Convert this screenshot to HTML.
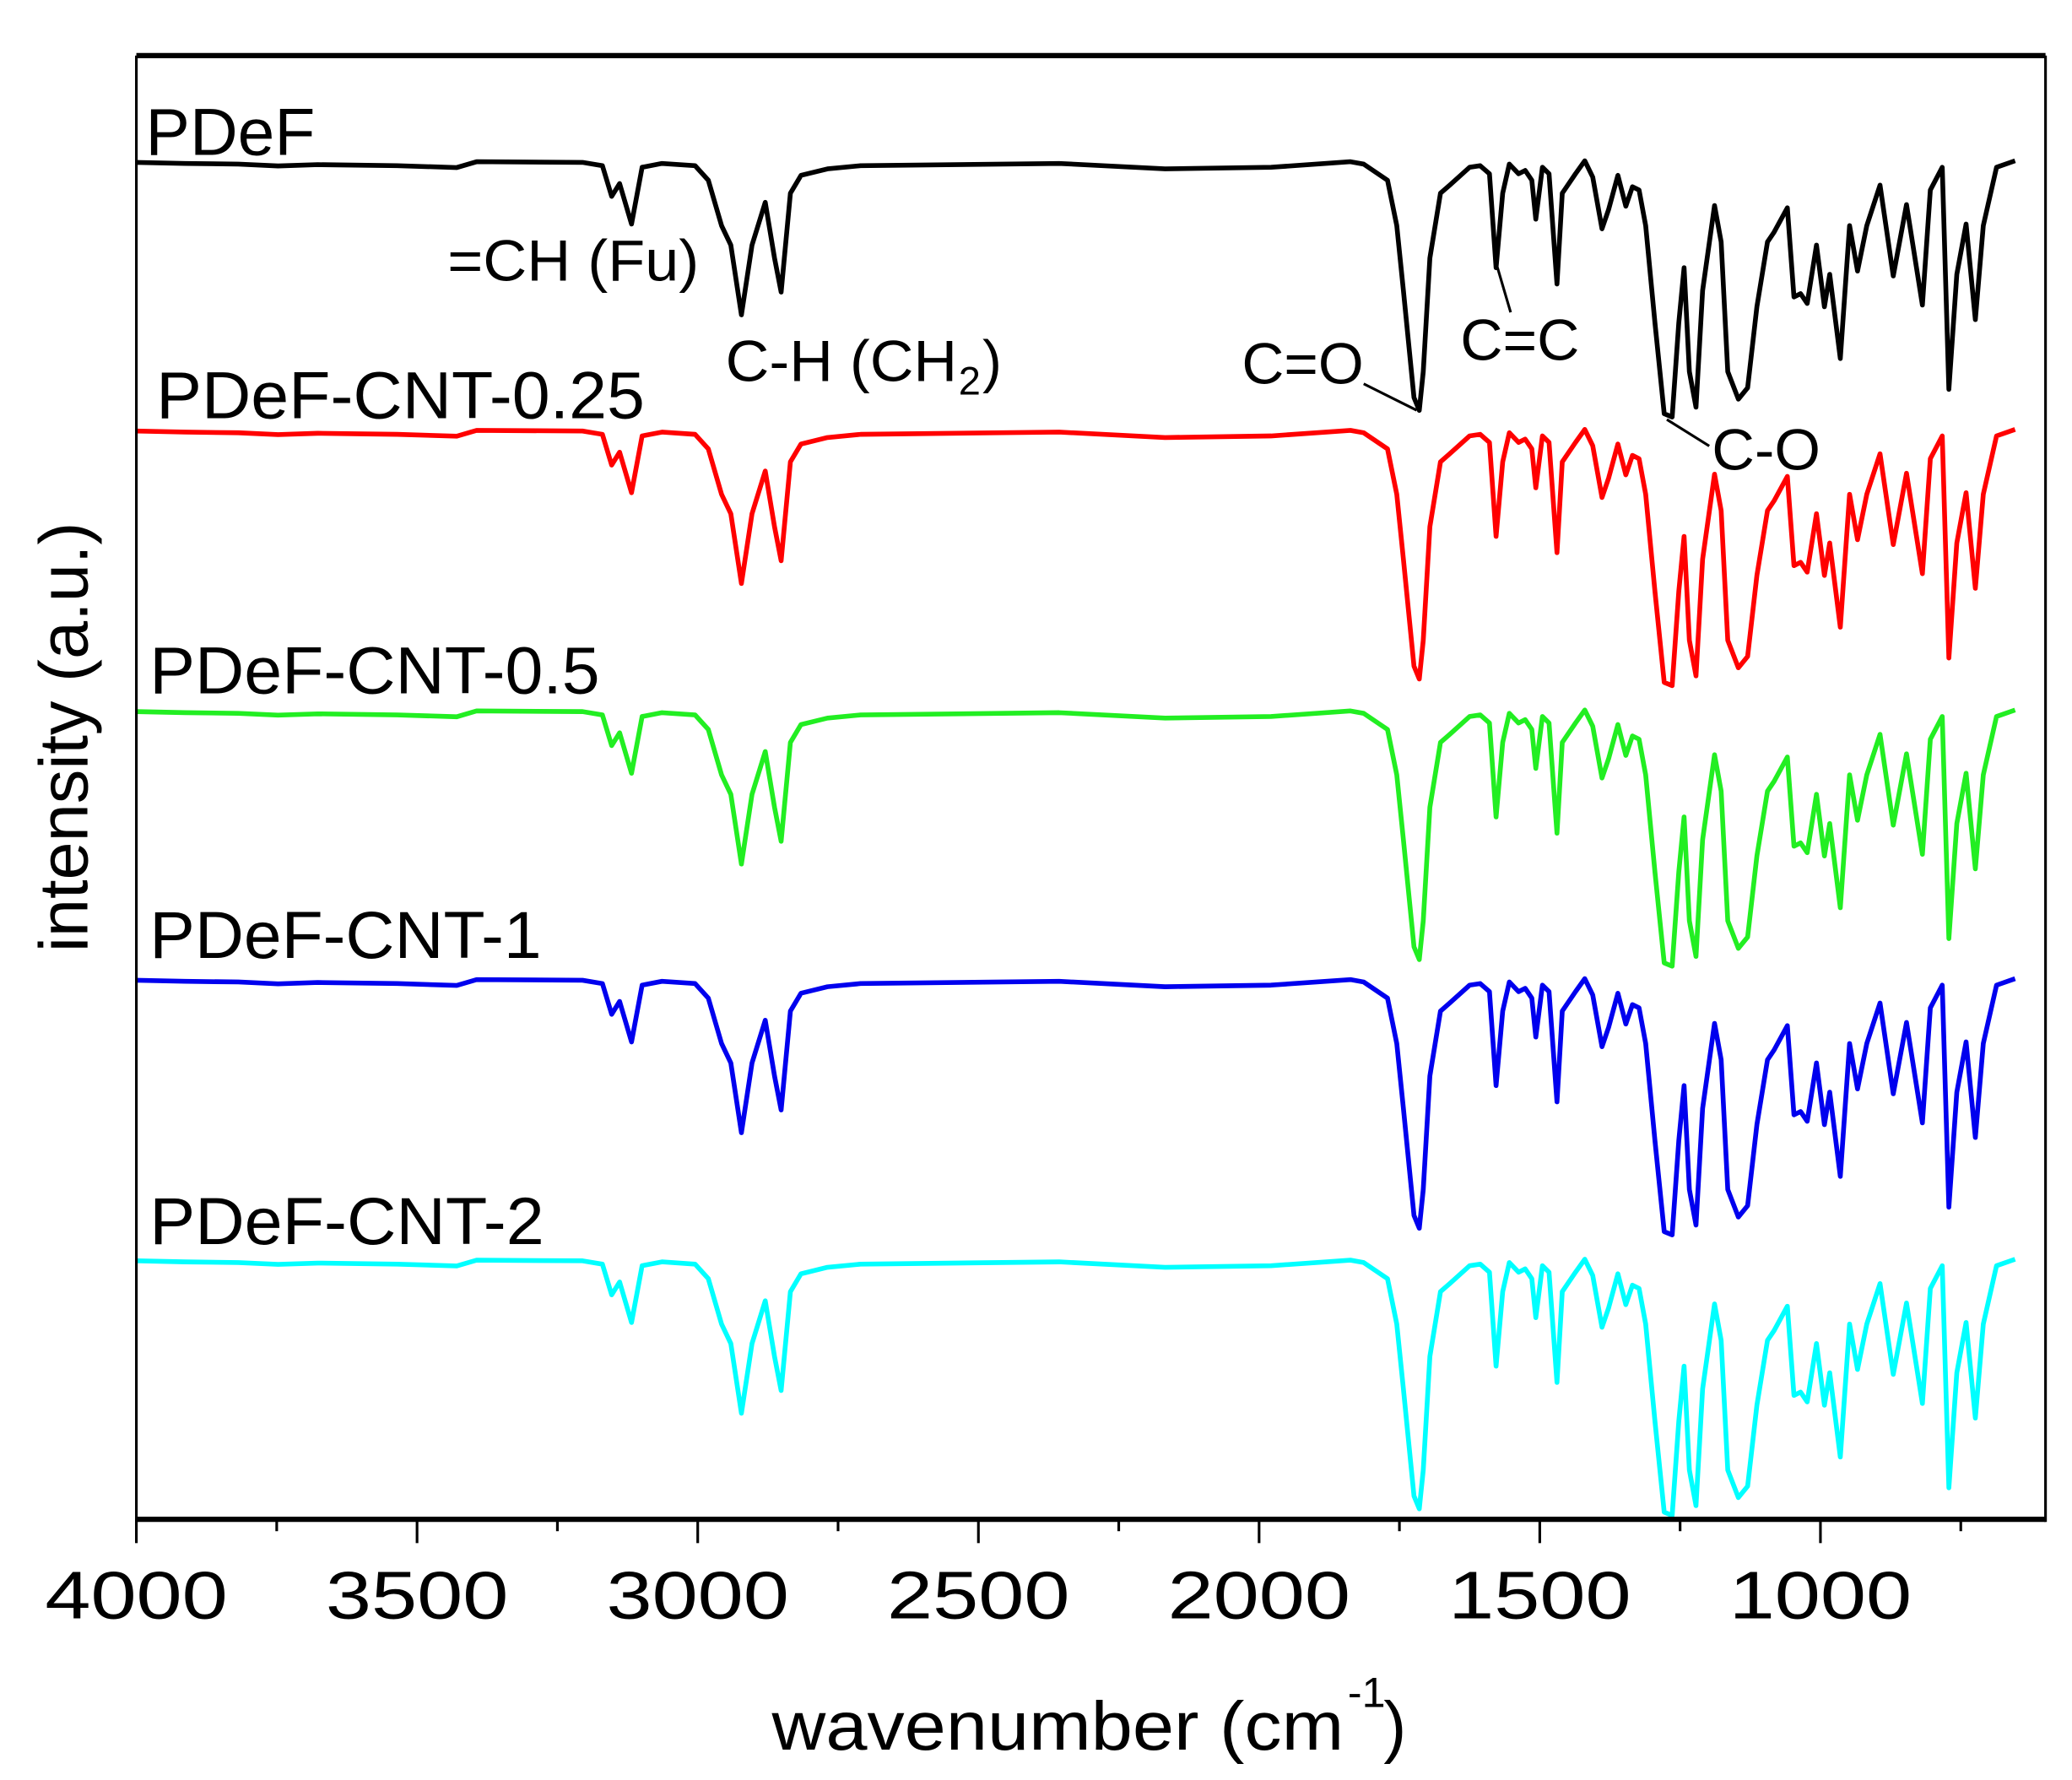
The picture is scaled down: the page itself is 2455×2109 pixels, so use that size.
<!DOCTYPE html>
<html><head><meta charset="utf-8"><style>
html,body{margin:0;padding:0;background:#fff;}
svg{display:block;}
text{font-family:"Liberation Sans",Arial,sans-serif;fill:#000;}
</style></head><body>
<svg id="s" width="2455" height="2109" viewBox="0 0 1565 1345" preserveAspectRatio="none" xmlns="http://www.w3.org/2000/svg">
<rect width="1565" height="1345" fill="#fff"/>
<g id="curves" fill="none" stroke-width="3.6" stroke-linejoin="round"></g>
<line x1="103" y1="42" x2="1545" y2="42" stroke="#000" stroke-width="4"/>
<line x1="103" y1="1148" x2="1545" y2="1148" stroke="#000" stroke-width="4"/>
<line x1="103" y1="42" x2="103" y2="1150" stroke="#000" stroke-width="2"/>
<line x1="1545" y1="42" x2="1545" y2="1150" stroke="#000" stroke-width="2"/>
<g id="ticks" stroke="#000" stroke-width="2"></g>
<g font-size="51" text-anchor="middle">
<text x="103" y="1223" textLength="138" lengthAdjust="spacingAndGlyphs">4000</text>
<text x="315" y="1223" textLength="138" lengthAdjust="spacingAndGlyphs">3500</text>
<text x="527" y="1223" textLength="138" lengthAdjust="spacingAndGlyphs">3000</text>
<text x="739" y="1223" textLength="138" lengthAdjust="spacingAndGlyphs">2500</text>
<text x="951" y="1223" textLength="138" lengthAdjust="spacingAndGlyphs">2000</text>
<text x="1163" y="1223" textLength="138" lengthAdjust="spacingAndGlyphs">1500</text>
<text x="1375" y="1223" textLength="138" lengthAdjust="spacingAndGlyphs">1000</text>
</g>
<text x="583" y="1322" font-size="52" textLength="432" lengthAdjust="spacingAndGlyphs">wavenumber (cm</text>
<text x="1018" y="1290" font-size="32">-1</text>
<text x="1045" y="1322" font-size="52">)</text>
<text transform="translate(66,557) rotate(-90)" font-size="52" text-anchor="middle" textLength="325" lengthAdjust="spacingAndGlyphs">intensity (a.u.)</text>
<g font-size="50">
<text x="110" y="117" textLength="128" lengthAdjust="spacingAndGlyphs">PDeF</text>
<text x="118" y="316" textLength="369" lengthAdjust="spacingAndGlyphs">PDeF-CNT-0.25</text>
<text x="113" y="524" textLength="340" lengthAdjust="spacingAndGlyphs">PDeF-CNT-0.5</text>
<text x="113" y="724" textLength="296" lengthAdjust="spacingAndGlyphs">PDeF-CNT-1</text>
<text x="113" y="940" textLength="298" lengthAdjust="spacingAndGlyphs">PDeF-CNT-2</text>
</g>
<g font-size="44">
<text x="338" y="212" textLength="190" lengthAdjust="spacingAndGlyphs">=CH (Fu)</text>
<text x="548" y="288" textLength="175" lengthAdjust="spacingAndGlyphs">C-H (CH</text>
<text x="724" y="298" font-size="30">2</text>
<text x="742" y="288">)</text>
<text x="938" y="290" textLength="92" lengthAdjust="spacingAndGlyphs">C=O</text>
<text x="1103" y="272" textLength="90" lengthAdjust="spacingAndGlyphs">C=C</text>
<text x="1293" y="355" textLength="82" lengthAdjust="spacingAndGlyphs">C-O</text>
</g>
<g stroke="#000" stroke-width="2">
<line x1="1030" y1="290" x2="1070" y2="310"/>
<line x1="1141" y1="236" x2="1131" y2="202"/>
<line x1="1291" y1="337" x2="1259" y2="317"/>
</g>
</svg>
<script>
var z=[[103,505],[140,508],[180,510],[210,516],[240,512],[300,515],[345,521],[360,503],[440,505],[455,515],[462,610],[468,570],[477,695],[485,520],[500,508],[525,515],[535,560],[545,700],[552,760],[560,975],[568,760],[578,628],[585,800],[590,905],[597,600],[605,545],[625,525],[650,515],[800,508],[880,525],[960,520],[1020,503],[1030,510],[1048,560],[1055,700],[1060,900],[1068,1230],[1072,1270],[1075,1150],[1080,800],[1088,600],[1095,575],[1110,520],[1118,515],[1125,540],[1130,830],[1135,600],[1140,510],[1147,540],[1152,530],[1157,560],[1160,680],[1165,520],[1170,540],[1176,880],[1180,600],[1190,540],[1197,500],[1203,550],[1210,710],[1215,650],[1222,545],[1228,640],[1233,580],[1238,590],[1243,700],[1250,1000],[1257,1280],[1263,1290],[1268,1000],[1272,830],[1276,1150],[1281,1260],[1286,900],[1295,638],[1300,750],[1305,1150],[1313,1235],[1320,1200],[1327,950],[1335,750],[1340,720],[1350,645],[1355,920],[1360,910],[1365,940],[1372,760],[1378,950],[1382,850],[1390,1110],[1397,700],[1403,840],[1410,700],[1420,575],[1430,855],[1440,635],[1452,945],[1458,590],[1467,520],[1472,1205],[1478,850],[1485,695],[1492,990],[1498,700],[1508,520],[1522,500]];
var base="M"+z.map(function(p){return p[0]+","+(0.245*p[1]-1).toFixed(1);}).join(" L");
var cols=[["#000",0],["#ff0000",203],["#22ee22",415],["#0000ee",618],["#00ffff",830]];
var g=document.getElementById("curves"),ns="http://www.w3.org/2000/svg";
cols.forEach(function(c){var p=document.createElementNS(ns,"path");p.setAttribute("d",base);p.setAttribute("stroke",c[0]);p.setAttribute("transform","translate(0,"+c[1]+")");g.appendChild(p);});
var t=document.getElementById("ticks");
for(var i=0;i<=13;i++){var x=103+i*106;if(x>1545)break;var l=document.createElementNS(ns,"line");l.setAttribute("x1",x);l.setAttribute("x2",x);l.setAttribute("y1",1148);l.setAttribute("y2",i%2?1157:1166);t.appendChild(l);}
</script>
</body></html>
